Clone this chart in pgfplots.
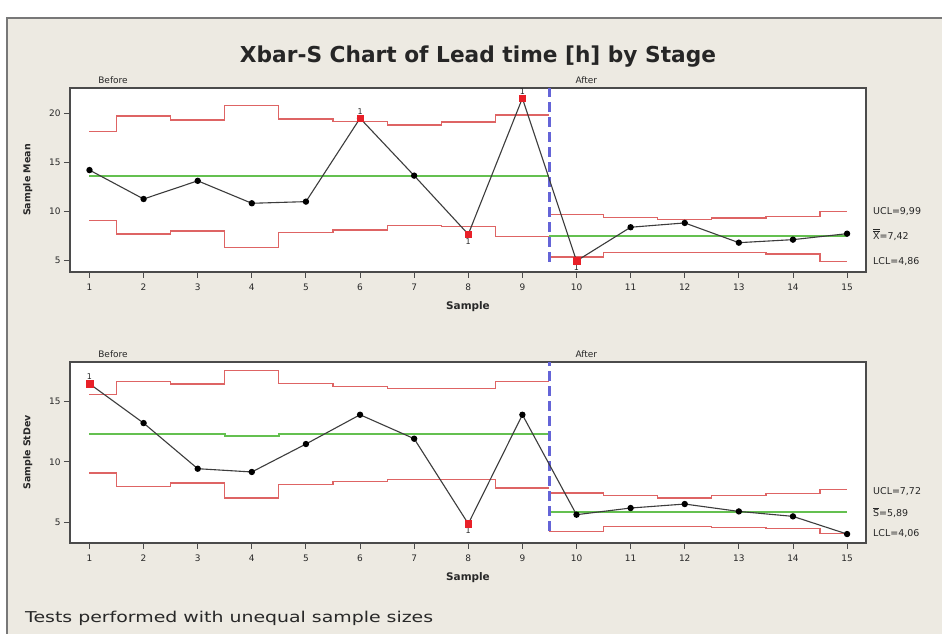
\documentclass[border=0pt]{standalone}
\usepackage{pgfplots}
\pgfplotsset{compat=1.18}
\usepackage{graphicx}
\usepackage{fontspec}
\setmainfont{DejaVu Sans}

\definecolor{bgbeige}{RGB}{237,234,226}
\definecolor{framegray}{RGB}{120,120,120}
\definecolor{axisgray}{RGB}{75,75,75}
\definecolor{txt}{RGB}{40,40,40}
\definecolor{limred}{RGB}{222,100,100}
\definecolor{cgreen}{RGB}{100,192,80}
\definecolor{stageblue}{RGB}{100,100,215}
\definecolor{flagred}{RGB}{232,32,40}
\definecolor{dataline}{RGB}{60,60,60}

\pgfplotsset{
  spc/.style={
    scale only axis, width=796bp,
    xmin=0.64, xmax=15.35,
    xtick={1,...,15},
    tick align=outside, tick pos=left,
    major tick length=6bp,
    axis line style={draw=axisgray, line width=1.4bp},
    tick style={draw=axisgray, line width=0.9bp},
    axis background/.style={fill=white},
    ticklabel style={font=\fontsize{9}{10}\selectfont, text=txt},
    xticklabel style={yshift=-2bp},
    /pgf/number format/assume math mode=true,
    xlabel={Sample},
    clip=false,
  },
  lim/.style={color=limred, line width=1.2bp, const plot mark mid, no marks},
  ctr/.style={color=cgreen, line width=1.8bp, const plot mark mid, no marks},
  dat/.style={color=dataline, line width=1.1bp, mark=*, mark size=2.6bp, mark options={fill=black, draw=black}},
  flag/.style={only marks, mark=square*, mark size=3.3bp, mark options={fill=flagred, draw=flagred}},
  stageline/.style={color=stageblue, solid, line width=2.2bp, dash pattern=on 10bp off 5bp, no marks},
}
\tikzset{
  onelbl/.style={font=\fontsize{8}{9}\selectfont, text=txt, inner sep=1bp},
  sidelbl/.style={font=\fontsize{9.5}{11}\selectfont, text=txt, anchor=west, xshift=7bp, inner sep=0pt},
  stagelbl/.style={font=\fontsize{9}{10}\selectfont, text=txt, anchor=base west, inner sep=0pt},
}

\begin{document}
\begin{tikzpicture}[x=1bp,y=1bp]
\useasboundingbox (0,0) rectangle (942,634);
\fill[white] (0,0) rectangle (942,634);
\filldraw[fill=bgbeige, draw=framegray, line width=1.5bp] (7,-10) rectangle (960,616);

\node[anchor=base, inner sep=0pt, text=black!85, font=\bfseries\fontsize{22}{26}\selectfont] at (478,571)
  {\resizebox{476bp}{\height}{Xbar-S Chart of Lead time [h] by Stage}};
\node[anchor=base west, inner sep=0pt, text=txt, font=\fontsize{15}{18}\selectfont] at (25,11)
  {\resizebox{408bp}{\height}{Tests performed with unequal sample sizes}};

% ---- Xbar chart ----
\begin{axis}[spc, at={(70bp,362bp)}, anchor=south west, height=184bp,
  ymin=3.77, ymax=22.6, ytick={5,10,15,20},
  ylabel={Sample Mean},
  ylabel style={at={(axis description cs:-0.053,0.5)}, anchor=center,
    font=\bfseries\fontsize{9.5}{11}\selectfont, text=txt},
  xlabel style={at={(axis description cs:0.5,-0.19)}, anchor=center,
    font=\bfseries\fontsize{10.5}{12}\selectfont, text=txt},
]
\addplot[lim] coordinates {(1,18.13)(2,19.74)(3,19.33)(4,20.8)(5,19.43)(6,19.2)(7,18.82)(8,19.12)(9,19.84)(9.5,19.84)};
\addplot[lim] coordinates {(1,9.02)(2,7.66)(3,7.97)(4,6.26)(5,7.8)(6,8.07)(7,8.51)(8,8.41)(9,7.39)(9.5,7.39)};
\addplot[lim] coordinates {(9.5,9.68)(10,9.68)(11,9.33)(12,9.16)(13,9.30)(14,9.47)(15,9.99)};
\addplot[lim] coordinates {(9.5,5.31)(10,5.31)(11,5.78)(12,5.78)(13,5.78)(14,5.61)(15,4.86)};
\addplot[ctr] coordinates {(1,13.63)(9.5,13.63)};
\addplot[ctr] coordinates {(9.5,7.42)(15,7.42)};
\addplot[stageline] coordinates {(9.5,4.83)(9.5,22.6)};
\addplot[dat] coordinates {(1,14.2)(2,11.24)(3,13.1)(4,10.8)(5,10.97)(6,19.5)(7,13.63)(8,7.63)(9,21.55)(10,4.9)(11,8.35)(12,8.79)(13,6.77)(14,7.08)(15,7.69)};
\addplot[flag] coordinates {(6,19.5)(8,7.63)(9,21.55)(10,4.9)};
\node[onelbl, anchor=south, yshift=3bp] at (axis cs:6,19.5) {1};
\node[onelbl, anchor=south, yshift=3bp] at (axis cs:9,21.55) {1};
\node[onelbl, anchor=north, yshift=-3bp] at (axis cs:8,7.63) {1};
\node[onelbl, anchor=north, yshift=-3bp] at (axis cs:10,4.9) {1};
\node[stagelbl, yshift=4bp] at (axis cs:1.16,22.6) {Before};
\node[stagelbl, yshift=4bp] at (axis cs:9.98,22.6) {After};
\node[sidelbl] at (axis cs:15.35,9.94) {UCL=9,99};
\node[sidelbl] at (axis cs:15.35,7.56) {$\overline{\overline{\mbox{X}}}$=7,42};
\node[sidelbl] at (axis cs:15.35,4.83) {LCL=4,86};
\end{axis}

% ---- S chart ----
\begin{axis}[spc, at={(70bp,91bp)}, anchor=south west, height=181bp,
  ymin=3.3, ymax=18.26, ytick={5,10,15},
  ylabel={Sample StDev},
  ylabel style={at={(axis description cs:-0.053,0.5)}, anchor=center,
    font=\bfseries\fontsize{9.5}{11}\selectfont, text=txt},
  xlabel style={at={(axis description cs:0.5,-0.193)}, anchor=center,
    font=\bfseries\fontsize{10.5}{12}\selectfont, text=txt},
]
\addplot[lim] coordinates {(1,15.55)(2,16.65)(3,16.44)(4,17.54)(5,16.46)(6,16.24)(7,16.1)(8,16.1)(9,16.65)(9.5,16.65)};
\addplot[lim] coordinates {(1,9.08)(2,7.98)(3,8.26)(4,7.02)(5,8.12)(6,8.39)(7,8.53)(8,8.53)(9,7.84)(9.5,7.84)};
\addplot[lim] coordinates {(9.5,7.43)(10,7.43)(11,7.21)(12,7.02)(13,7.21)(14,7.37)(15,7.72)};
\addplot[lim] coordinates {(9.5,4.23)(10,4.23)(11,4.64)(12,4.64)(13,4.59)(14,4.48)(15,4.06)};
\addplot[ctr] coordinates {(1,12.33)(2,12.33)(3,12.33)(4,12.17)(5,12.33)(6,12.33)(7,12.33)(8,12.33)(9,12.33)(9.5,12.33)};
\addplot[ctr] coordinates {(9.5,5.86)(15,5.86)};
\addplot[stageline] coordinates {(9.5,4.28)(9.5,18.26)};
\addplot[dat] coordinates {(1,16.46)(2,13.21)(3,9.44)(4,9.17)(5,11.48)(6,13.9)(7,11.92)(8,4.89)(9,13.9)(10,5.64)(11,6.19)(12,6.52)(13,5.91)(14,5.50)(15,4.04)};
\addplot[flag] coordinates {(1,16.46)(8,4.89)};
\node[onelbl, anchor=south, yshift=3bp] at (axis cs:1,16.46) {1};
\node[onelbl, anchor=north, yshift=-3bp] at (axis cs:8,4.89) {1};
\node[stagelbl, yshift=4bp] at (axis cs:1.16,18.26) {Before};
\node[stagelbl, yshift=4bp] at (axis cs:9.98,18.26) {After};
\node[sidelbl] at (axis cs:15.35,7.54) {UCL=7,72};
\node[sidelbl] at (axis cs:15.35,5.82) {$\overline{\mbox{S}}$=5,89};
\node[sidelbl] at (axis cs:15.35,4.07) {LCL=4,06};
\end{axis}
\end{tikzpicture}
\end{document}
